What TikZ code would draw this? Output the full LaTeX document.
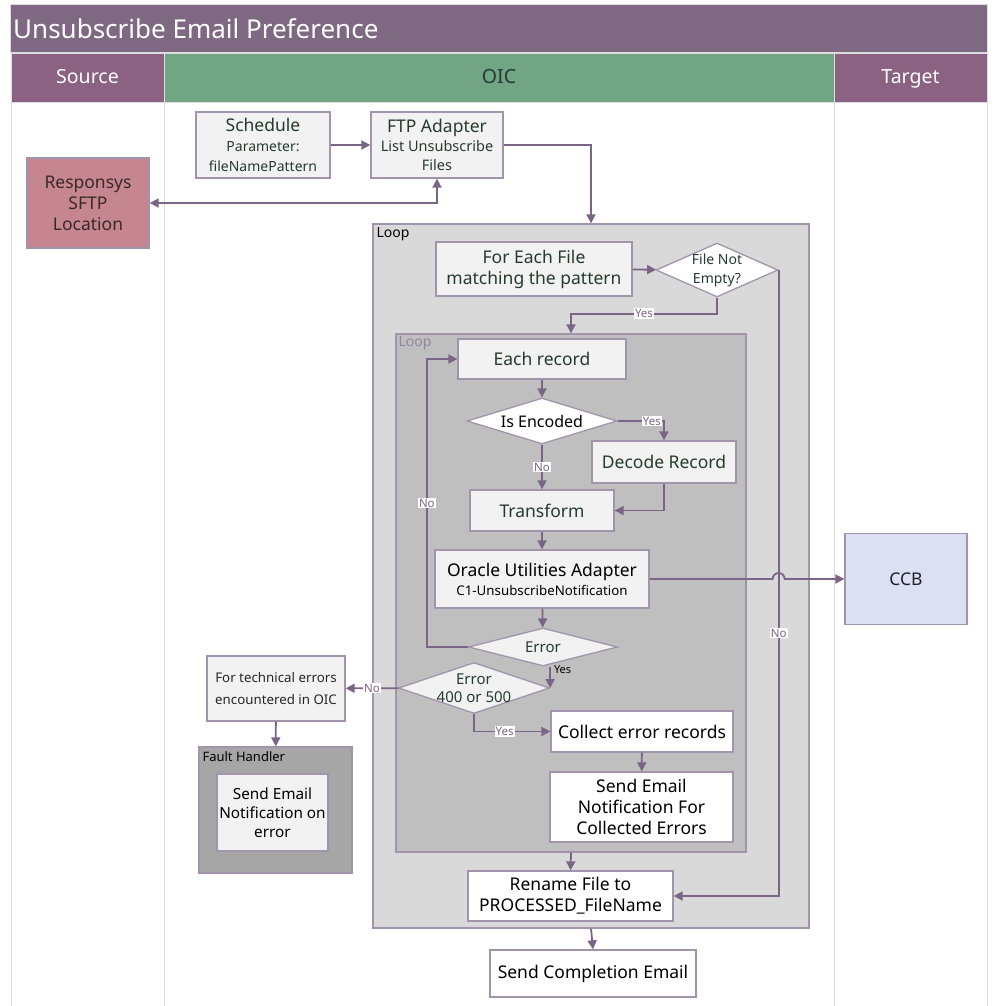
\documentclass[tikz,border=0pt]{standalone}
\usepackage{fontspec}
\setmainfont{Noto Sans}
\usetikzlibrary{arrows.meta,shapes.geometric,calc}

\definecolor{titlebar}{HTML}{7F6882}
\definecolor{lanehead}{HTML}{8B6281}
\definecolor{oichead}{HTML}{72A583}
\definecolor{edgeclr}{HTML}{A294AA}
\definecolor{arrowclr}{HTML}{7A6585}
\definecolor{boxfill}{HTML}{F2F2F2}
\definecolor{respfill}{HTML}{C5868F}
\definecolor{ccbfill}{HTML}{DBE0F3}
\definecolor{loopa}{HTML}{D9D9D9}
\definecolor{loopb}{HTML}{BFBFBF}
\definecolor{faultfill}{HTML}{A6A6A6}
\definecolor{lanegrid}{HTML}{DDDDDD}
\definecolor{txtdark}{HTML}{263A31}

\newcommand{\bigfont}{\fontsize{17.5}{21}\selectfont}
\newcommand{\smfont}{\fontsize{14}{20}\selectfont}

\begin{document}
\begin{tikzpicture}[x=1pt,y=-1pt,>={Triangle[length=9pt,width=9pt]},
  box/.style={draw=edgeclr,line width=1.3pt,fill=boxfill,inner sep=2pt,align=center,text=txtdark,font=\bigfont},
  wbox/.style={box,fill=white,text=black},
  dec/.style={diamond,aspect=3,draw=edgeclr,line width=1.3pt,fill=white,inner sep=-8pt,align=center,text=txtdark},
  loopbox/.style={draw=edgeclr,line width=1.3pt,inner sep=0pt},
  flow/.style={draw=arrowclr,line width=1.8pt,->},
  lbl/.style={fill=white,inner sep=1pt,text=arrowclr,font=\fontsize{11.5}{13}\selectfont},
  head/.style={draw=lanegrid,line width=1pt,fill=lanehead,text=white,font=\fontsize{19.5}{23}\selectfont,inner sep=0pt,text height=14pt,text depth=4pt}]
\useasboundingbox (0,0) rectangle (993,1006);

\node[draw=lanegrid,line width=1pt,fill=titlebar,minimum width=977pt,minimum height=48pt,inner sep=0pt] (title) at (498.5,29) {};
\node[anchor=west,text=white,font=\fontsize{26}{30}\selectfont,inner sep=0pt] at (13,29) {Unsubscribe Email Preference};
\node[head,minimum width=153pt,minimum height=49pt] (srchead) at (87.5,78.5) {Source};
\node[head,fill=oichead,text=txtdark,minimum width=670pt,minimum height=49pt] (oichead) at (499,78.5) {OIC};
\node[head,minimum width=153pt,minimum height=49pt] (tgthead) at (910.5,78.5) {Target};
\foreach \lx in {11,164,834,987}
  \draw[lanegrid,line width=1pt] (\lx,103) -- (\lx,1006);

\node[box,minimum width=134pt,minimum height=66pt,font=\smfont] (sched) at (263,145) {{\bigfont Schedule}\\Parameter:\\fileNamePattern};
\node[box,minimum width=132pt,minimum height=66pt,font=\fontsize{14.5}{19}\selectfont] (ftp) at (437,145) {{\bigfont FTP Adapter}\\List Unsubscribe\\Files};
\node[box,fill=respfill,text=black!70!respfill,minimum width=122pt,minimum height=90pt] (resp) at (88,203) {Responsys\\SFTP\\Location};

\node[loopbox,fill=loopa,minimum width=436pt,minimum height=704pt] (outerloop) at (591,576) {};
\node[anchor=north west,inner sep=0pt,font=\fontsize{14}{16}\selectfont] at ([xshift=4pt,yshift=-4pt]outerloop.north west) {Loop};
\node[box,minimum width=196pt,minimum height=54pt] (foreach) at (534,269) {For Each File\\matching the pattern};
\node[dec,minimum width=122pt,minimum height=54pt,font=\fontsize{14}{19}\selectfont] (fne) at (717,270) {File Not\\Empty?};

\node[loopbox,fill=loopb,minimum width=350pt,minimum height=518pt] (innerloop) at (571,593) {};
\node[anchor=north west,inner sep=0pt,text=arrowclr!80,font=\fontsize{14}{16}\selectfont] at ([xshift=3pt,yshift=-3pt]innerloop.north west) {Loop};
\node[box,minimum width=168pt,minimum height=40pt] (eachrec) at (542,359) {Each record};
\node[dec,text=black,minimum width=150pt,minimum height=46pt,font=\fontsize{16}{19}\selectfont] (isenc) at (542,421) {Is Encoded};
\node[box,minimum width=144pt,minimum height=42pt] (decode) at (664,462) {Decode Record};
\node[box,minimum width=144pt,minimum height=41pt] (transform) at (542,510.5) {Transform};
\node[box,text=black,minimum width=214pt,minimum height=58pt,font=\fontsize{13.3}{19}\selectfont] (oua) at (542,579) {{\bigfont Oracle Utilities Adapter}\\C1-UnsubscribeNotification};
\node[dec,fill=boxfill,minimum width=149pt,minimum height=38pt,font=\fontsize{15}{18}\selectfont] (err) at (543,647) {Error};
\node[dec,fill=boxfill,minimum width=151pt,minimum height=51pt,font=\fontsize{15}{18}\selectfont] (err400) at (474,688) {Error\\400 or 500};
\node[wbox,minimum width=182pt,minimum height=41pt] (collect) at (642,731.5) {Collect error records};
\node[wbox,minimum width=183pt,minimum height=70pt] (sendcoll) at (641.5,807) {Send Email\\Notification For\\Collected Errors};
\node[wbox,minimum width=205pt,minimum height=50pt] (rename) at (570.5,896) {Rename File to\\PROCESSED\_FileName};
\node[wbox,minimum width=206pt,minimum height=47pt] (sendcomp) at (593,973.5) {Send Completion Email};

\node[box,text=black!85,minimum width=138pt,minimum height=65pt,font=\fontsize{13.3}{22}\selectfont] (tech) at (276,688.5) {For technical errors\\encountered in OIC};
\node[loopbox,fill=faultfill,minimum width=153pt,minimum height=126pt] (fault) at (275.5,810) {};
\node[anchor=north west,inner sep=0pt,font=\fontsize{13}{15}\selectfont] at ([xshift=4pt,yshift=-5pt]fault.north west) {Fault Handler};
\node[box,text=black,minimum width=111pt,minimum height=77pt,font=\fontsize{15.3}{19}\selectfont] (sendfault) at (272.5,812.5) {Send Email\\Notification on\\error};

\node[box,fill=ccbfill,text=black!70!arrowclr,minimum width=122pt,minimum height=91pt] (ccb) at (906,579) {CCB};

\draw[flow] (sched) -- (ftp);
\draw[flow,<->] (resp.east) -| (ftp.south);
\draw[flow] (ftp.east) -| (outerloop.north);
\draw[flow] (foreach) -- (fne);
\draw[flow] (fne.south) -- ++(0,16) -| node[lbl,pos=0.25]{Yes} (innerloop.north);
\draw[flow] (fne.east) -- node[lbl,pos=0.58]{No} (fne.east |- rename.east) -- (rename.east);
\draw[flow] (eachrec) -- (isenc);
\draw[flow] (isenc.east) -| node[lbl,pos=0.37]{Yes} (decode.north);
\draw[flow] (isenc) -- node[lbl]{No} (transform);
\draw[flow] (decode.south) |- (transform.east);
\draw[flow] (transform) -- (oua);
\coordinate (hop) at (oua.east -| fne.east);
\draw[flow] (oua.east) -- ([xshift=-6pt]hop) arc[start angle=180,end angle=0,radius=6pt] -- (ccb.west);
\draw[flow] (oua) -- (err);
\draw[flow] (err.west) -- ++(-41,0) |- node[lbl,pos=0.25]{No} (eachrec.west);
\draw[flow] (err400.east |- err.south) -- node[pos=0.15,anchor=west,inner sep=3pt,font=\bfseries\fontsize{11}{13}\selectfont]{Yes} (err400.east);
\draw[flow] (err400) -- node[lbl]{No} (tech);
\draw[flow] (tech) -- (fault);
\draw[flow] (err400.south) |- node[lbl,pos=0.7]{Yes} (collect.west);
\draw[flow] (collect) -- (sendcoll);
\draw[flow] (innerloop.south) -- (rename.north);
\draw[flow] (outerloop.south) -- (sendcomp.north);
\end{tikzpicture}
\end{document}
